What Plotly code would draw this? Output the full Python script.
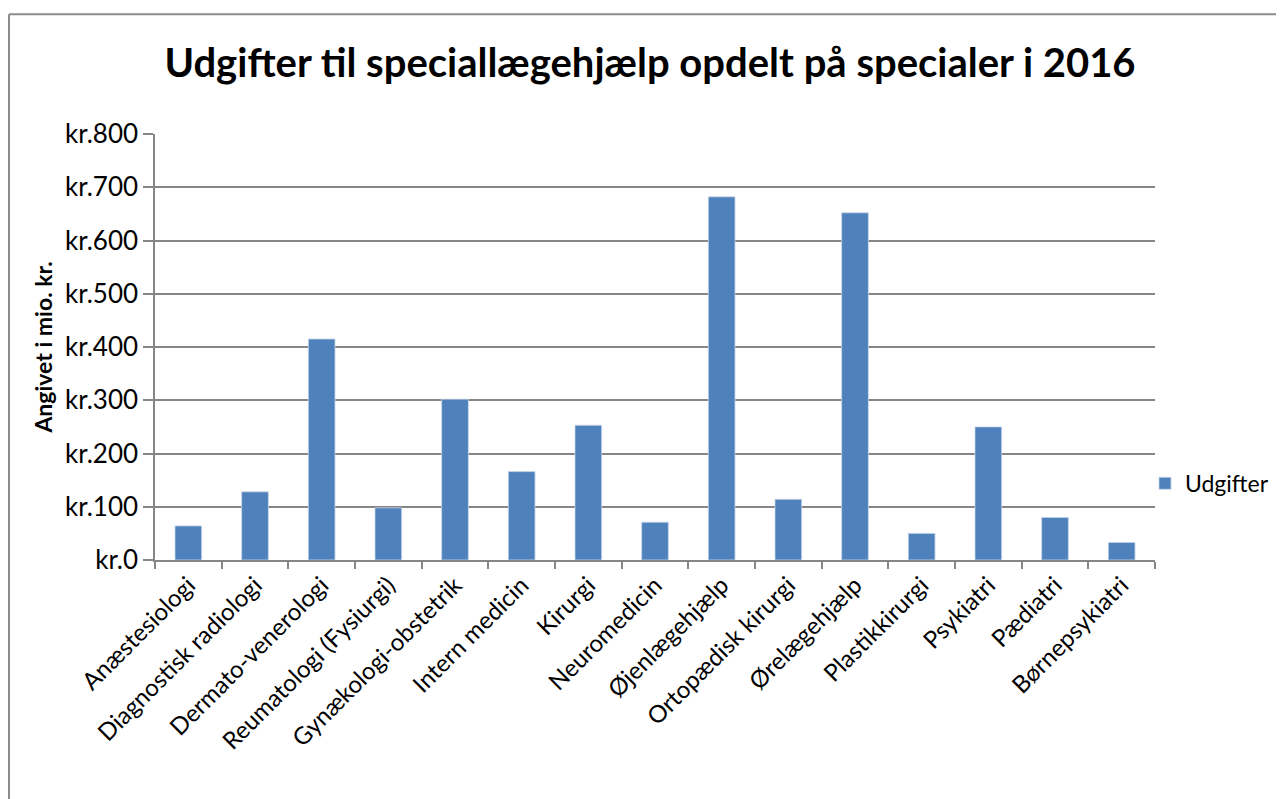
import plotly.graph_objects as go

categories = ["Anæstesiologi", "Diagnostisk radiologi", "Dermato-venerologi",
              "Reumatologi (Fysiurgi)", "Gynækologi-obstetrik", "Intern medicin",
              "Kirurgi", "Neuromedicin", "Øjenlægehjælp", "Ortopædisk kirurgi",
              "Ørelægehjælp", "Plastikkirurgi", "Psykiatri", "Pædiatri", "Børnepsykiatri"]
udgifter = [64, 128, 415, 98, 302, 166, 253, 71, 682, 114, 652, 50, 250, 80, 33]
series_name = "Udgifter"
title_text = "Udgifter til speciallægehjælp opdelt på specialer i 2016"
y_title = "Angivet i mio. kr."

FONT = "Lato"
GRID = "#868686"

fig = go.Figure()
fig.add_trace(go.Bar(
    x=categories, y=udgifter, name=series_name,
    marker=dict(color="#4F81BD", line=dict(color="#C6D6EA", width=0.8)),
))

fig.update_layout(
    width=1284, height=799,
    paper_bgcolor="white", plot_bgcolor="white",
    margin=dict(l=147, r=137, t=126, b=247, autoexpand=False),
    font=dict(family=FONT, color="black", size=25),
    title=dict(text="<b>" + title_text + "</b>", x=0.5, xanchor="center",
               y=0.931, yanchor="middle", font=dict(family=FONT, size=40)),
    bargap=0.6,
    showlegend=True,
    legend=dict(x=0.99, xanchor="left", y=0.18, yanchor="middle",
                font=dict(size=23), bgcolor="rgba(0,0,0,0)", itemwidth=30),
    xaxis=dict(
        type="category", tickangle=-45, showgrid=False,
        showline=True, linecolor=GRID, linewidth=1.5,
        ticks="outside", tickson="boundaries", ticklen=7, tickcolor=GRID, tickwidth=1.5,
        tickfont=dict(size=24),
    ),
    yaxis=dict(
        range=[0, 800], dtick=100, tickprefix="kr.",
        showgrid=True, gridcolor=GRID, gridwidth=1.5,
        showline=True, linecolor=GRID, linewidth=1.5,
        ticks="outside", ticklen=10, tickcolor=GRID, tickwidth=1.5,
        tickfont=dict(size=26), zeroline=False,
        title=dict(text="<b>" + y_title + "</b>", font=dict(size=23), standoff=6),
    ),
    shapes=[
        dict(type="line", xref="paper", yref="paper", x0=-0.146, x1=1.2,
             y0=1 + 120/427, y1=1 + 120/427, line=dict(color="#8C8C8C", width=2)),
        dict(type="line", xref="paper", yref="paper", x0=-0.146, x1=-0.146,
             y0=-0.6, y1=1 + 120/427, line=dict(color="#8C8C8C", width=2)),
    ],
)

fig.write_html("out.html")
